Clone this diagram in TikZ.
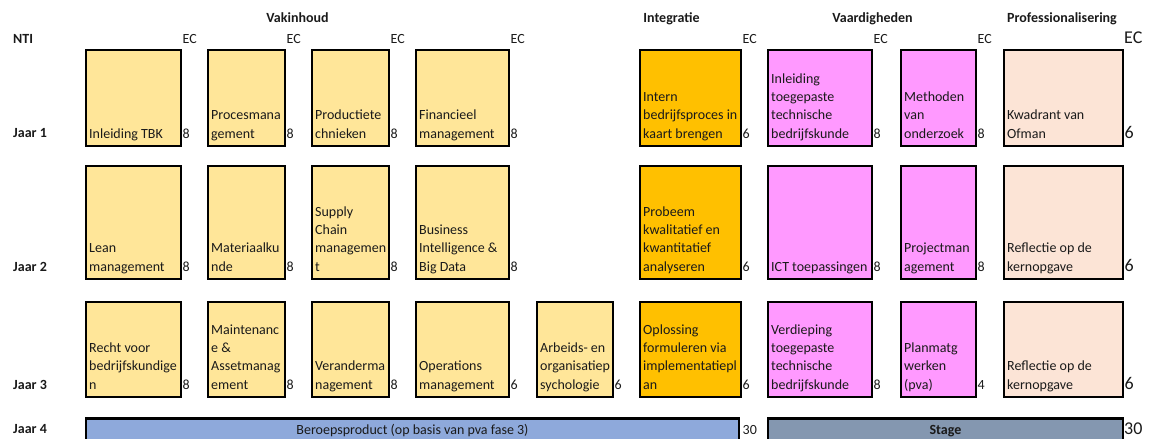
\documentclass[tikz,border=0pt]{standalone}
\usepackage{fontspec}
\setmainfont{Carlito}
\definecolor{vak}{HTML}{FFE699}
\definecolor{integ}{HTML}{FFC000}
\definecolor{vaard}{HTML}{FF99FF}
\definecolor{prof}{HTML}{FCE4D6}
\definecolor{beroep}{HTML}{8EA9DB}
\definecolor{stagec}{HTML}{8497B0}
\definecolor{ink}{HTML}{1A1A1A}
\newcommand\mkcourse[9]{%
  \draw[cbox, fill=#6] (#2,#4) rectangle (#3,#5);
  \node[txt] (#1t) at (#2+3,#5-8) {\parbox[b]{160pt}{\raggedright #7}};
  \node[#9] (#1n) at (#3+1.5,#5-8) {#8};
}
\begin{document}
\begin{tikzpicture}[x=1pt,y=-1pt,
  cbox/.style={draw=black, line width=2.9pt},
  txt/.style={inner sep=0pt, anchor=base west, text=ink, font=\fontsize{14}{18.3}\selectfont},
  ecs/.style={inner sep=0pt, anchor=base west, text=ink, font=\fontsize{14}{16}\selectfont},
  ecb/.style={inner sep=0pt, anchor=base west, text=ink, font=\fontsize{18}{20}\selectfont},
  hdr/.style={inner sep=0pt, anchor=base, text=ink, font=\fontsize{14}{16}\selectfont\bfseries},
  rowl/.style={inner sep=0pt, anchor=base west, text=ink, font=\fontsize{14}{16}\selectfont\bfseries},
  bartxt/.style={inner sep=0pt, anchor=base, text=ink, font=\fontsize{14}{16}\selectfont}]
\useasboundingbox (0,0) rectangle (1149,439);
% headers
\node[hdr] (hvak) at (297.5,22) {Vakinhoud};
\node[hdr] (hint) at (671.5,22) {Integratie};
\node[hdr] (hvaa) at (872.5,22) {Vaardigheden};
\node[hdr] (hpro) at (1062,22) {Professionalisering};
\node[rowl] (nti) at (13,43) {NTI};
% EC labels
\node[ecs] (ec1) at (182.5,43) {EC};
\node[ecs] (ec2) at (286.5,43) {EC};
\node[ecs] (ec3) at (390.5,43) {EC};
\node[ecs] (ec4) at (510.5,43) {EC};
\node[ecs] (ec5) at (742.5,43) {EC};
\node[ecs] (ec6) at (873.5,43) {EC};
\node[ecs] (ec7) at (977.5,43) {EC};
\node[ecb] (ec8) at (1124,43) {EC};
% row labels
\node[rowl] (j1) at (13,137.7) {Jaar 1};
\node[rowl] (j2) at (13,271) {Jaar 2};
\node[rowl] (j3) at (13,389) {Jaar 3};
\node[rowl] (j4) at (13,433) {Jaar 4};
% Jaar 1
\mkcourse{a1}{86}{181}{50}{146}{vak}{Inleiding TBK}{8}{ecs}
\mkcourse{a2}{208}{285}{50}{146}{vak}{Procesmana\\gement}{8}{ecs}
\mkcourse{a3}{312}{389}{50}{146}{vak}{Productiete\\chnieken}{8}{ecs}
\mkcourse{a4}{416}{509}{50}{146}{vak}{Financieel\\management}{8}{ecs}
\mkcourse{a5}{640}{741}{50}{146}{integ}{Intern\\bedrijfsproces in\\kaart brengen}{6}{ecs}
\mkcourse{a6}{768}{872}{50}{146}{vaard}{Inleiding\\toegepaste\\technische\\bedrijfskunde}{8}{ecs}
\mkcourse{a7}{901}{976}{50}{146}{vaard}{Methoden\\van\\onderzoek}{8}{ecs}
\mkcourse{a8}{1004}{1123}{50}{146}{prof}{Kwadrant van\\Ofman}{6}{ecb}
% Jaar 2
\mkcourse{b1}{86}{181}{166}{279}{vak}{Lean\\management}{8}{ecs}
\mkcourse{b2}{208}{285}{166}{279}{vak}{Materiaalku\\nde}{8}{ecs}
\mkcourse{b3}{312}{389}{166}{279}{vak}{Supply\\Chain\\managemen\\t}{8}{ecs}
\mkcourse{b4}{416}{509}{166}{279}{vak}{Business\\Intelligence \&\\Big Data}{8}{ecs}
\mkcourse{b5}{640}{741}{166}{279}{integ}{Probeem\\kwalitatief en\\kwantitatief\\analyseren}{6}{ecs}
\mkcourse{b6}{768}{872}{166}{279}{vaard}{ICT toepassingen}{8}{ecs}
\mkcourse{b7}{901}{976}{166}{279}{vaard}{Projectman\\agement}{8}{ecs}
\mkcourse{b8}{1004}{1123}{166}{279}{prof}{Reflectie op de\\kernopgave}{6}{ecb}
% Jaar 3
\mkcourse{c1}{86}{181}{302}{397}{vak}{Recht voor\\bedrijfskundige\\n}{8}{ecs}
\mkcourse{c2}{208}{285}{302}{397}{vak}{Maintenanc\\e \&\\Assetmanag\\ement}{8}{ecs}
\mkcourse{c3}{312}{389}{302}{397}{vak}{Veranderma\\nagement}{8}{ecs}
\mkcourse{c4}{416}{509}{302}{397}{vak}{Operations\\management}{6}{ecs}
\mkcourse{c5}{537}{613}{302}{397}{vak}{Arbeids- en\\organisatiep\\sychologie}{6}{ecs}
\mkcourse{c6}{640}{741}{302}{397}{integ}{Oplossing\\formuleren via\\implementatiepl\\an}{6}{ecs}
\mkcourse{c7}{768}{872}{302}{397}{vaard}{Verdieping\\toegepaste\\technische\\bedrijfskunde}{8}{ecs}
\mkcourse{c8}{901}{976}{302}{397}{vaard}{Planmatg\\werken\\(pva)}{4}{ecs}
\mkcourse{c9}{1004}{1123}{302}{397}{prof}{Reflectie op de\\kernopgave}{6}{ecb}
% Jaar 4
\draw[cbox, fill=beroep] (86,418.5) rectangle (739,443);
\node[bartxt] (bp) at (412.5,434) {Beroepsproduct (op basis van pva fase 3)};
\node[ecs] (bpn) at (742.5,434) {30};
\draw[cbox, fill=stagec] (768,418.5) rectangle (1123,443);
\node[bartxt, font=\fontsize{14}{16}\selectfont\bfseries] (st) at (945.5,434) {Stage};
\node[ecb] (stn) at (1124,434) {30};
\end{tikzpicture}
\end{document}
